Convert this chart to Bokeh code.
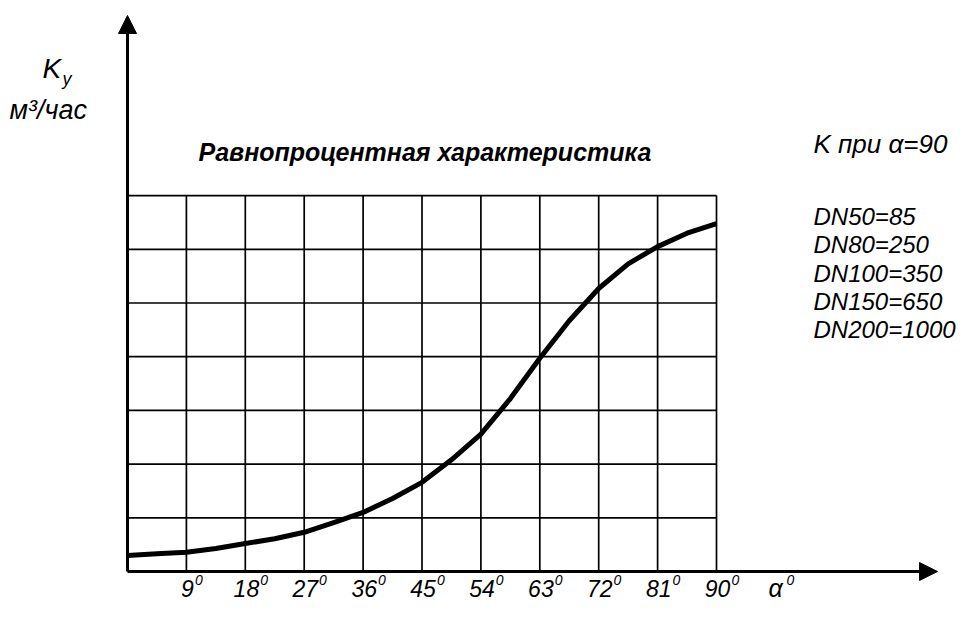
from bokeh.plotting import figure
from bokeh.models import Range1d, Arrow, NormalHead, ColumnDataSource
from bokeh.core.properties import value
from bokeh.embed import file_html
from bokeh.resources import INLINE

# ---- data ----
angles = [0, 4.5, 9, 13.5, 18, 22.5, 27, 31.5, 36, 40.5, 45, 49.5, 54,
          58.5, 63, 67.5, 72, 76.5, 81, 85.5, 90]
kv = [0.30, 0.33, 0.36, 0.43, 0.52, 0.61, 0.73, 0.91, 1.10, 1.36, 1.66,
      2.08, 2.56, 3.22, 3.97, 4.67, 5.27, 5.73, 6.05, 6.30, 6.48]
x_ticks = [9, 18, 27, 36, 45, 54, 63, 72, 81, 90]
x_tick_labels = ["9", "18", "27", "36", "45", "54", "63", "72", "81", "90"]
tick_sup = "0"
y_grid = [1, 2, 3, 4, 5, 6, 7]
legend_lines = ["DN50=85", "DN80=250", "DN100=350", "DN150=650", "DN200=1000"]

W, H = 958, 603
PXX = (716 - 127) / 90.0      # px per degree
PXY = 53.7                    # px per grid unit
x0 = -127 / PXX
y0 = -(H - 571) / PXY

def X(px):   # picture px -> data x
    return (px - 127) / PXX

def Y(py):   # picture px -> data y
    return (571 - py) / PXY

def TY(py, size):   # text baseline correction
    return Y(py - 0.36 * size)

p = figure(width=W, height=H, output_backend="svg", toolbar_location=None,
           x_range=Range1d(x0, x0 + W / PXX), y_range=Range1d(y0, y0 + H / PXY),
           min_border=0, x_axis_location=None, y_axis_location=None)
p.outline_line_color = None
p.xgrid.visible = False
p.ygrid.visible = False
p.background_fill_color = "white"

FONT = value("Liberation Sans")

# grid
p.segment(x0=x_ticks, y0=[0] * len(x_ticks), x1=x_ticks, y1=[7] * len(x_ticks),
          line_color="black", line_width=1.7)
p.segment(x0=[0] * len(y_grid), y0=y_grid, x1=[90] * len(y_grid), y1=y_grid,
          line_color="black", line_width=1.7)

# axes with arrows
p.add_layout(Arrow(end=NormalHead(size=18, fill_color="black", line_color="black"),
                   x_start=0, y_start=0, x_end=X(937), y_end=0,
                   line_width=3, line_color="black"))
p.add_layout(Arrow(end=NormalHead(size=18, fill_color="black", line_color="black"),
                   x_start=0, y_start=0, x_end=0, y_end=Y(15),
                   line_width=3, line_color="black"))

# curve
p.line(angles, kv, line_width=5, line_color="black", line_join="round")

# tick labels: number + superscript "0", group centred ~5px right of grid line
FS, FS_SUP = 23, 14
W_SUP = 0.556 * FS_SUP
offs = [5 + (len(t) * 0.556 * FS - W_SUP) / 2 for t in x_tick_labels]
src = ColumnDataSource(dict(x=x_ticks, t=x_tick_labels, off=offs,
                            off2=[o + 1 for o in offs], s=[tick_sup] * len(x_ticks)))
BASE = 596
p.text(x="x", y=TY(BASE, FS), text="t", source=src, text_align="right",
       text_baseline="alphabetic", x_offset="off", text_font=FONT,
       text_font_style="italic", text_font_size=f"{FS}px", text_color="black")
p.text(x="x", y=TY(BASE - 11, FS_SUP), text="s", source=src, text_align="left",
       text_baseline="alphabetic", x_offset="off2", text_font=FONT,
       text_font_style="italic", text_font_size=f"{FS_SUP}px", text_color="black")
p.text(x=[X(768)], y=[TY(BASE, 25)], text=["\u03b1"], text_align="left",
       text_baseline="alphabetic", text_font=FONT, text_font_style="italic",
       text_font_size="25px", text_color="black")
p.text(x=[X(786)], y=[TY(BASE - 11, FS_SUP)], text=[tick_sup], text_align="left",
       text_baseline="alphabetic", text_font=FONT, text_font_style="italic",
       text_font_size=f"{FS_SUP}px", text_color="black")

# y label
p.text(x=[X(42)], y=[TY(78, 28)], text=["K"], text_align="left", text_baseline="alphabetic",
       text_font=FONT, text_font_style="italic", text_font_size="28px")
p.text(x=[X(62)], y=[TY(85, 18)], text=["\u0443"], text_align="left", text_baseline="alphabetic",
       text_font=FONT, text_font_style="italic", text_font_size="18px")
p.text(x=[X(9)], y=[TY(119, 27)], text=["\u043c\u00b3/\u0447\u0430\u0441"], text_align="left",
       text_baseline="alphabetic", text_font=FONT, text_font_style="italic",
       text_font_size="27px")

# title
p.text(x=[X(198)], y=[TY(160, 25)], text=["Равнопроцентная характеристика"],
       text_align="left", text_baseline="alphabetic", text_font=FONT,
       text_font_style="bold italic", text_font_size="25px")

# right legend
p.text(x=[X(813)], y=[TY(153, 26)], text=["K при \u03b1=90"], text_align="left",
       text_baseline="alphabetic", text_font=FONT, text_font_style="italic",
       text_font_size="26px")
leg_y = [TY(v, 24) for v in (225, 253, 282, 310, 338)]
p.text(x=[X(813)] * len(legend_lines), y=leg_y, text=legend_lines, text_align="left",
       text_baseline="alphabetic", text_font=FONT, text_font_style="italic",
       text_font_size="24px")

open("out.html", "w").write(file_html(p, INLINE))
